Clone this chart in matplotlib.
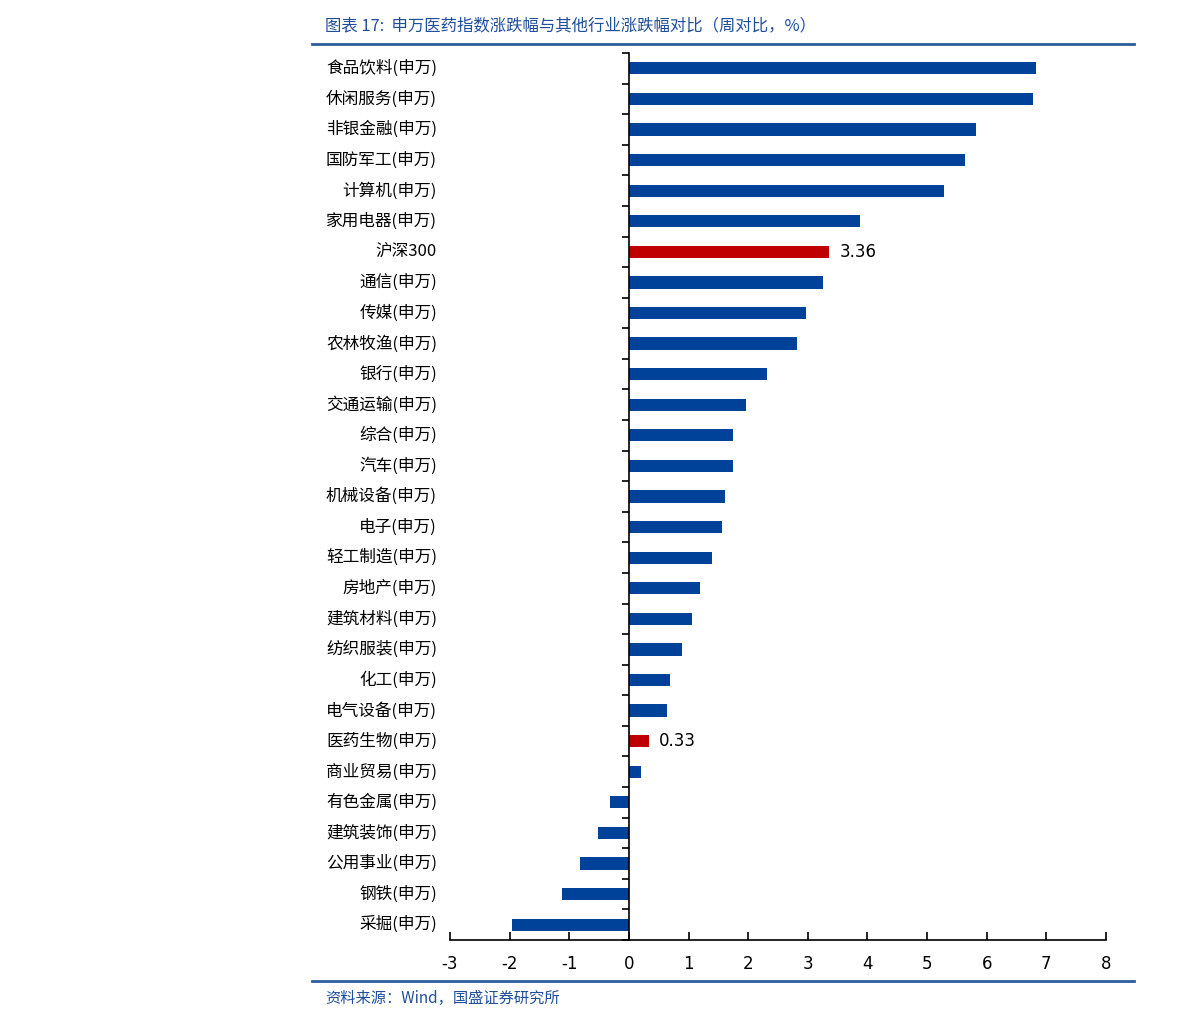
import matplotlib.pyplot as plt
from matplotlib.lines import Line2D
import matplotlib.transforms as mtransforms

plt.rcParams['font.family'] = ['DejaVu Sans', 'Noto Sans CJK SC']

# --- data (top to bottom) ---
industries = ['食品饮料(申万)', '休闲服务(申万)', '非银金融(申万)', '国防军工(申万)', '计算机(申万)',
              '家用电器(申万)', '沪深300', '通信(申万)', '传媒(申万)', '农林牧渔(申万)',
              '银行(申万)', '交通运输(申万)', '综合(申万)', '汽车(申万)', '机械设备(申万)',
              '电子(申万)', '轻工制造(申万)', '房地产(申万)', '建筑材料(申万)', '纺织服装(申万)',
              '化工(申万)', '电气设备(申万)', '医药生物(申万)', '商业贸易(申万)', '有色金属(申万)',
              '建筑装饰(申万)', '公用事业(申万)', '钢铁(申万)', '采掘(申万)']
changes = [6.83, 6.78, 5.82, 5.64, 5.29, 3.88, 3.36, 3.26, 2.97, 2.82,
           2.32, 1.96, 1.74, 1.74, 1.61, 1.56, 1.39, 1.19, 1.06, 0.89,
           0.69, 0.64, 0.33, 0.20, -0.32, -0.52, -0.82, -1.12, -1.96]
highlight = ['沪深300', '医药生物(申万)']
x_ticks = list(range(-3, 9))

blue = '#00429A'
red = '#C00000'
line_blue = '#2E5C9E'
text_blue = '#1F4E9A'

fig = plt.figure(figsize=(11.91, 10.26), dpi=100)
ax = fig.add_axes([450 / 1191, 1 - 940 / 1026, 656 / 1191, (940 - 53) / 1026])

n = len(industries)
ypos = list(range(n))
colors = [red if name in highlight else blue for name in industries]
ax.barh(ypos, changes, height=0.4, color=colors)

ax.set_xlim(-3, 8)
ax.set_ylim(n - 0.5, -0.5)

# spines
ax.spines['top'].set_visible(False)
ax.spines['right'].set_visible(False)
ax.spines['left'].set_position(('data', 0))
ax.spines['left'].set_linewidth(1.2)
ax.spines['bottom'].set_linewidth(1.2)

# y ticks at category boundaries, no labels
ax.set_yticks([i - 0.5 for i in range(n + 1)])
ax.set_yticklabels([])
ax.tick_params(axis='y', direction='out', length=5, width=1.2)

ax.set_xticks(x_ticks)
ax.set_xticklabels([str(t) for t in x_ticks], fontsize=12)
ax.tick_params(axis='x', direction='in', length=6, width=1.2, pad=11)

# category labels placed left of the axes
trans = mtransforms.blended_transform_factory(fig.transFigure, ax.transData)
for i, name in enumerate(industries):
    ax.text(437 / 1191, i, name, transform=trans, ha='right', va='center',
            fontsize=12, family=['Noto Sans CJK SC', 'DejaVu Sans'])

# value labels for highlighted bars
for i, (name, v) in enumerate(zip(industries, changes)):
    if name in highlight:
        ax.text(v + 0.18, i, f'{v:.2f}', va='center', ha='left', fontsize=12)

# title, source and separator lines
fig.text(325 / 1191, 1 - 26 / 1026, '图表 17:  申万医药指数涨跌幅与其他行业涨跌幅对比（周对比，%）',
         color=text_blue, fontsize=11.8, style='italic', va='center',
         family=['Noto Sans CJK SC', 'DejaVu Sans'])
fig.add_artist(Line2D([312 / 1191, 1134 / 1191], [1 - 44 / 1026] * 2,
                      transform=fig.transFigure, color=line_blue, lw=2))
fig.add_artist(Line2D([312 / 1191, 1134 / 1191], [1 - 981 / 1026] * 2,
                      transform=fig.transFigure, color=line_blue, lw=2))
fig.text(325 / 1191, 1 - 998 / 1026, '资料来源：Wind，国盛证券研究所',
         color=text_blue, fontsize=11, style='italic', va='center',
         family=['Noto Sans CJK SC', 'DejaVu Sans'])

fig.savefig('out.png', dpi=100)
